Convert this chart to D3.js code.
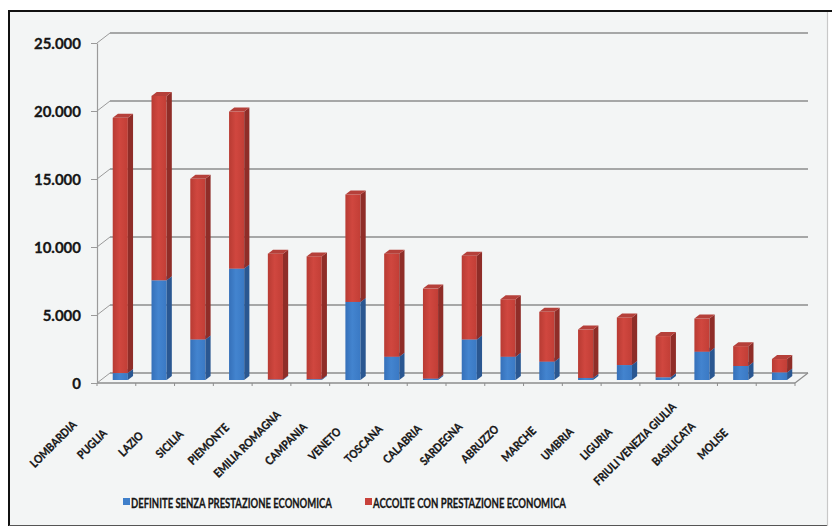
<!DOCTYPE html>
<html>
<head>
<meta charset="utf-8">
<script src="https://cdn.jsdelivr.net/npm/d3@7"></script>
<style>
  html, body { margin: 0; padding: 0; background: #ffffff; }
  svg { display: block; }
  text { font-family: Lato, "Open Sans", "Liberation Sans", sans-serif; font-weight: 700; fill: #161616; stroke: #161616; stroke-width: 0.3px; }
</style>
</head>
<body>
<svg id="chart" width="832" height="528"></svg>
<script>
// Regions, ordered by requests accepted with economic benefit
const categories = ["LOMBARDIA", "PUGLIA", "LAZIO", "SICILIA", "PIEMONTE", "EMILIA ROMAGNA",
  "CAMPANIA", "VENETO", "TOSCANA", "CALABRIA", "SARDEGNA", "ABRUZZO", "MARCHE", "UMBRIA",
  "LIGURIA", "FRIULI VENEZIA GIULIA", "BASILICATA", "MOLISE"];

// Lower stack: closed without economic benefit
const definite = [510, 7330, 2980, 8190, 40, 60, 5740, 1710, 100, 2980, 1710, 1350, 150, 1100, 200, 2080, 1030, 560];
// Upper stack: accepted with economic benefit
const accolte = [18770, 13560, 11810, 11550, 9250, 9030, 7900, 7580, 6620, 6160, 4230, 3660, 3560, 3500, 3030, 2440, 1460, 980];

const seriesNames = ["DEFINITE SENZA PRESTAZIONE ECONOMICA", "ACCOLTE CON PRESTAZIONE ECONOMICA"];
const yTicks = [0, 5000, 10000, 15000, 20000, 25000];

const rows = categories.map((c, i) => ({ cat: c, definite: definite[i], accolte: accolte[i] }));

const svg = d3.select("#chart");
const defs = svg.append("defs");

// Chart frame
svg.append("rect").attr("x", 9).attr("y", 11).attr("width", 819).attr("height", 514)
  .attr("fill", "#f3f5f5").attr("stroke", "none");
svg.append("line").attr("x1", 9).attr("y1", 11).attr("x2", 832).attr("y2", 11).attr("stroke", "#111").attr("stroke-width", 2);
svg.append("line").attr("x1", 9).attr("y1", 10).attr("x2", 9).attr("y2", 526).attr("stroke", "#111").attr("stroke-width", 2);
svg.append("line").attr("x1", 9).attr("y1", 525.5).attr("x2", 828).attr("y2", 525.5).attr("stroke", "#555").attr("stroke-width", 1.2);
svg.append("line").attr("x1", 827.5).attr("y1", 12).attr("x2", 827.5).attr("y2", 526).attr("stroke", "#c8c8c8").attr("stroke-width", 1.2);

// Pseudo-3D geometry
const depth = { dx: 13, dy: -10 };
const x = d3.scaleBand().domain(categories).range([97, 795]);
const y = d3.scaleLinear().domain([0, 25000]).range([383, 43]);
const bw = x.bandwidth();
const barW = bw * 0.39;
const barFront = 0.3, barDepth = 0.4;

const itLocale = d3.formatLocale({ decimal: ",", thousands: ".", grouping: [3], currency: ["", " €"] });
const fmt = itLocale.format(",");

// Back wall gridlines and side-wall connectors
const grid = svg.append("g");
yTicks.forEach(t => {
  grid.append("line")
    .attr("x1", x.range()[0] + depth.dx).attr("x2", x.range()[1] + depth.dx)
    .attr("y1", y(t) + depth.dy).attr("y2", y(t) + depth.dy)
    .attr("stroke", "#8d8d8d").attr("stroke-width", 1.4);
  grid.append("line")
    .attr("x1", x.range()[0]).attr("y1", y(t))
    .attr("x2", x.range()[0] + depth.dx).attr("y2", y(t) + depth.dy)
    .attr("stroke", "#9a9a9a").attr("stroke-width", 1);
});

// Floor edges
const x0 = x.range()[0], x1 = x.range()[1];
svg.append("line").attr("x1", x0).attr("y1", y(0)).attr("x2", x1).attr("y2", y(0))
  .attr("stroke", "#8d8d8d").attr("stroke-width", 1.3);
svg.append("line").attr("x1", x1).attr("y1", y(0)).attr("x2", x1 + depth.dx).attr("y2", y(0) + depth.dy)
  .attr("stroke", "#8d8d8d").attr("stroke-width", 1.2);
svg.append("g").selectAll("line").data(d3.range(categories.length + 1)).join("line")
  .attr("x1", i => x0 + i * bw).attr("x2", i => x0 + i * bw)
  .attr("y1", y(0)).attr("y2", y(0) + 3)
  .attr("stroke", "#8d8d8d").attr("stroke-width", 1);

// Value axis
const yAxis = svg.append("g").attr("transform", `translate(${x0},0)`)
  .call(d3.axisLeft(y).tickValues(yTicks).tickFormat(fmt).tickSize(6).tickSizeOuter(0).tickPadding(10));
yAxis.select(".domain").attr("stroke", "#9a9a9a").attr("stroke-width", 1.2);
yAxis.selectAll(".tick line").attr("stroke", "#9a9a9a");
yAxis.selectAll(".tick text").attr("font-size", 15).attr("font-family", "Lato, sans-serif")
  .attr("font-weight", 700).attr("fill", "#161616").attr("stroke", "#161616").attr("stroke-width", 0.3)
  .attr("dy", "0.36em");

// Face shading
function grad(id, stops) {
  const g = defs.append("linearGradient").attr("id", id).attr("x1", "0").attr("x2", "1").attr("y1", "0").attr("y2", "0");
  stops.forEach(([o, c]) => g.append("stop").attr("offset", o).attr("stop-color", c));
}
grad("frontRed", [["0", "#b83b33"], ["0.45", "#d0473f"], ["1", "#c23e36"]]);
grad("frontBlue", [["0", "#3570b9"], ["0.45", "#4384cf"], ["1", "#3a79c4"]]);
const faces = {
  definite: { front: "url(#frontBlue)", side: "#2a5791", top: "#4a87cc" },
  accolte: { front: "url(#frontRed)", side: "#8f2d28", top: "#b5403a" }
};

const stack = d3.stack().keys(["definite", "accolte"]);
const layers = stack(rows);

const bars = svg.append("g");
const bdx = depth.dx * barDepth, bdy = depth.dy * barDepth;
categories.forEach((c, i) => {
  const g = bars.append("g");
  layers.forEach(layer => {
    const d = layer[i];
    if (d[1] - d[0] <= 0) return;
    const f = faces[layer.key];
    const xl = x(c) + (bw - barW) / 2 + depth.dx * barFront;
    const yb = y(d[0]) + depth.dy * barFront;
    const yt = y(d[1]) + depth.dy * barFront;
    g.append("rect").attr("x", xl).attr("y", yt).attr("width", barW).attr("height", yb - yt).attr("fill", f.front);
    g.append("polygon").attr("fill", f.side)
      .attr("points", [[xl + barW, yb], [xl + barW + bdx, yb + bdy], [xl + barW + bdx, yt + bdy], [xl + barW, yt]].join(" "));
    g.append("polygon").attr("fill", f.top)
      .attr("points", [[xl, yt], [xl + barW, yt], [xl + barW + bdx, yt + bdy], [xl + bdx, yt + bdy]].join(" "));
  });
});

// Category labels, rotated and horizontally condensed
svg.append("g").selectAll("text").data(categories).join("text")
  .attr("transform", c => `translate(${x(c) + bw / 2 + depth.dx * barFront - 67},444) rotate(-45) scale(0.88,1)`)
  .attr("text-anchor", "middle").attr("dy", "0.35em")
  .attr("font-size", 11.5).text(c => c);

// Legend
const legend = svg.append("g");
const legendItems = [
  { name: seriesNames[0], color: "#3f7fca", x: 123, width: 201 },
  { name: seriesNames[1], color: "#c8423b", x: 365, width: 193 }
];
legendItems.forEach(it => {
  legend.append("rect").attr("x", it.x).attr("y", 498).attr("width", 7).attr("height", 7).attr("fill", it.color);
  const t = legend.append("text").attr("font-size", 13).text(it.name);
  const k = it.width / t.node().getComputedTextLength();
  t.attr("transform", `translate(${it.x + 8},507.5) scale(${k},1)`);
});
</script>
</body>
</html>
